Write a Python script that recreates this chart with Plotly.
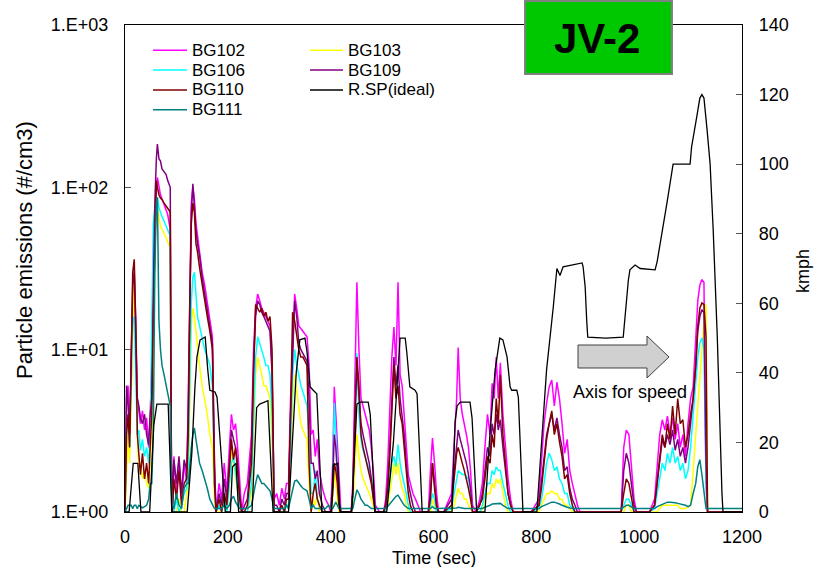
import plotly.graph_objects as go

# ---------------- data ----------------
time_s = [
    0, 3, 6, 9, 12, 15, 18, 21, 24,
    27, 30, 34, 38, 42, 46, 49,
    52, 55, 58, 61, 63, 66, 69, 72, 76, 80, 83, 86, 88, 90, 92,
    95, 100, 105, 110, 115, 120,
    123, 126, 129, 132, 135, 138, 141, 145, 150, 155, 160, 165, 170, 174, 177,
    183, 188, 193, 198,
    203, 207, 211, 215, 219, 223, 227,
    232, 238,
    246, 250, 254, 258, 262, 266, 270, 274, 278, 282, 286, 290,
    295, 300, 305, 310, 314,
    318, 322, 326, 330, 334, 338, 342, 346, 350, 354, 358, 362,
    366, 370, 374, 378, 384, 390, 396, 400,
    404, 407, 410, 413, 416, 420,
    430, 440,
    443, 447, 451, 455, 459, 463, 467, 471, 475, 479, 483, 487,
    495, 503,
    507, 511, 515, 519, 523, 527, 531, 535, 539, 543, 547, 551, 555, 560, 565, 570, 575,
    582,
    590, 594, 598, 602, 606, 610,
    620,
    635, 640, 645, 648, 652, 656, 660, 664, 668, 672, 676,
    683,
    690, 695, 700, 705, 710, 714, 718, 722, 726, 730, 735, 740, 745, 750, 755,
    770, 790,
    805, 810, 815, 820, 825, 830, 835, 840, 845, 850, 855, 860, 865, 870, 875, 880, 885,
    900, 930, 950,
    965, 970, 975, 980, 985, 990, 995,
    1010, 1020,
    1030, 1035, 1040, 1045, 1050, 1055, 1060, 1065, 1070, 1075, 1080, 1085, 1090, 1095, 1100, 1105, 1110,
    1114, 1118, 1122, 1126, 1130, 1133, 1136,
    1150, 1170, 1200,
]

bg102 = [
    1, 5, 6, 3, 8, 20, 28, 15, 5,
    4, 3.5, 4.2, 3.2, 3.8, 2.5, 4,
    8, 30, 60, 100, 115, 100, 90, 85, 78, 72, 68, 60, 55, 2, 1,
    2.2, 1.3, 2.1, 1.2, 2.0, 1.5,
    5, 30, 80, 100, 84, 60, 50, 40, 30, 25, 20, 15, 12, 2, 1,
    1.5, 1.2, 2.0, 1.3,
    2.5, 4.0, 3.2, 3.5, 2.5, 1.5, 1,
    1.3, 1.5,
    3, 10, 18, 22, 20, 18, 17, 16, 15, 14, 8, 1.2,
    1.3, 1.1, 1.4, 1.2, 1.5,
    1.5, 5, 12, 22, 18, 14, 13.5, 13, 12.5, 12, 8, 3,
    3.2, 2.2, 2.8, 1.8, 1.4, 1.2, 1.1, 1.0,
    2, 5.9, 4, 2.5, 1.5, 1,
    1, 1,
    1.5, 8, 26, 10, 5, 4.5, 4, 3.5, 3.2, 2.5, 1.8, 1.1,
    1, 1,
    1.2, 2, 4, 9, 13.8, 8, 26, 7, 6, 4, 2.5, 1.7, 1.5, 1.3, 1.2, 1.1, 1,
    1,
    1, 1.8, 2.85, 2.0, 1.3, 1,
    1,
    1.3, 2.5, 5, 10.3, 5, 4, 3.5, 3, 2.5, 1.8, 1.1,
    1,
    1.2, 1.5, 2.5, 4, 3, 6.2, 5, 9, 5, 8.3, 4, 2.5, 1.6, 1.2, 1,
    1, 1,
    1.2, 2, 3.5, 4.7, 5.9, 6.5, 4.5, 6.3, 5, 3.5, 2.3, 2.8, 1.8, 1.5, 1.3, 1.1, 1,
    1, 1, 1,
    1, 2.5, 3.2, 3.0, 2.0, 1.2, 1,
    1, 1,
    1.2, 2, 3, 3.7, 3.2, 3.9, 3, 3.8, 2.8, 3.5, 2.5, 3, 2.2, 3.5, 5, 5.9, 11,
    20, 25, 27, 26, 1.5, 1, 1,
    1, 1, 1,
]

bg103 = [
    1, 2, 3, 2, 5, 18, 30, 12, 3,
    1.8, 2, 1.6, 1.8, 1.5, 1.4, 2,
    2, 5, 40, 70, 75, 65, 58, 55, 52, 49, 46, 44, 42, 2, 1,
    1, 1, 1.2, 1, 1, 1.3,
    1.5, 5, 14, 18, 16, 13, 10, 8, 6, 5, 4, 3, 2.5, 1.2, 1,
    1, 1, 1.3, 1,
    1.5, 2.5, 2.0, 1.6, 1.3, 1.1, 1,
    1, 1,
    1.3, 3, 7, 9, 8, 7, 6, 6, 5.5, 5, 3, 1,
    1, 1, 1, 1, 1.1,
    1.1, 2, 5, 7, 5.5, 4.4, 3.5, 3.2, 3, 2.8, 1.5, 1,
    1.2, 1.1, 1.3, 1, 1, 1, 1, 1,
    1.2, 1.8, 1.5, 1.2, 1, 1,
    1, 1,
    1.1, 1.8, 3, 2.2, 1.8, 1.6, 1.5, 1.4, 1.3, 1.2, 1.1, 1,
    1, 1,
    1, 1.1, 1.3, 1.6, 2, 1.7, 2.0, 1.6, 1.4, 1.3, 1.1, 1, 1, 1, 1, 1, 1,
    1,
    1, 1, 1.2, 1.1, 1, 1,
    1,
    1, 1.1, 1.3, 1.4, 1.3, 1.3, 1.2, 1.2, 1.1, 1.05, 1,
    1,
    1, 1.05, 1.2, 1.3, 1.3, 1.5, 1.4, 1.6, 1.5, 1.6, 1.3, 1.1, 1, 1, 1,
    1, 1,
    1, 1.1, 1.2, 1.3, 1.3, 1.35, 1.3, 1.3, 1.2, 1.2, 1.1, 1.1, 1.05, 1, 1, 1, 1,
    1, 1, 1,
    1, 1, 1.1, 1.1, 1, 1, 1,
    1, 1,
    1, 1, 1.05, 1.1, 1.1, 1.1, 1.1, 1.1, 1.1, 1.1, 1.05, 1.05, 1.05, 1.07, 1.1, 1.8, 3,
    4.2, 7, 9.5, 15, 19, 1, 1,
    1, 1, 1,
]

bg106 = [
    1, 3, 4, 2.5, 6, 15, 16, 8, 3,
    3.2, 2.4, 2.8, 2.2, 2.5, 2.0, 3,
    15, 60, 75, 85, 87, 75, 70, 66, 62, 58, 55, 52, 50, 2, 1,
    1, 1.2, 1, 1.1, 1.3, 1.4,
    2, 8, 20, 28, 30, 22, 16, 14, 12, 10, 9, 8, 6, 1.5, 1,
    1.1, 1, 1.2, 1,
    1.5, 2.0, 2.2, 1.8, 1.4, 1.1, 1,
    1, 1,
    1.5, 4, 9, 12, 11, 10, 9, 8, 8, 7, 4, 1,
    1, 1, 1, 1, 1.1,
    1.1, 2.5, 7, 10, 8, 7, 6, 5.5, 5, 4.5, 3, 1.3,
    1.3, 1.8, 1.2, 1.1, 1, 1, 1, 1,
    1.5, 4.7, 3, 1.8, 1.2, 1,
    1, 1,
    1.2, 3, 9.5, 4, 2.8, 2.4, 2.2, 2.0, 1.8, 1.6, 1.3, 1,
    1, 1,
    1, 1.2, 1.5, 2, 2.2, 1.9, 2.6, 2.0, 1.7, 1.5, 1.3, 1.1, 1, 1, 1, 1, 1,
    1,
    1, 1.1, 1.3, 1.2, 1, 1,
    1,
    1.05, 1.3, 1.6, 1.8, 1.75, 1.7, 1.7, 1.65, 1.6, 1.3, 1,
    1,
    1, 1.1, 1.3, 1.5, 1.5, 1.8, 1.7, 1.9, 1.8, 1.8, 1.5, 1.3, 1.1, 1, 1,
    1, 1,
    1.05, 1.2, 1.5, 2.0, 2.3, 2.1, 1.8, 1.9, 1.6, 1.5, 1.3, 1.3, 1.1, 1.05, 1, 1, 1,
    1, 1, 1,
    1, 1.1, 1.2, 1.2, 1.1, 1, 1,
    1, 1,
    1.05, 1.3, 1.6, 2.0, 1.8, 2.3, 2.0, 2.5, 2.0, 2.2, 1.8, 2.0, 1.6, 1.8, 2.5, 4, 6,
    9, 11, 11.8, 10, 1.5, 1, 1,
    1, 1, 1,
]

bg109 = [
    1, 6, 4.5, 3, 9, 25, 30, 12, 5,
    4.5, 3.8, 3.5, 4.0, 3.0, 2.6, 4,
    5, 20, 80, 150, 185, 150, 145, 130, 125, 120, 110, 105, 100, 3, 1,
    2.1, 1.5, 2.2, 1.3, 2.1, 1.8,
    4, 25, 70, 105, 75, 55, 45, 38, 28, 22, 18, 14, 11, 2, 1,
    1.3, 1.1, 1.6, 1.2,
    2.0, 3.2, 2.8, 2.5, 2.0, 1.3, 1,
    1.1, 1.2,
    2.5, 8, 16, 20, 19, 17, 16, 15, 14, 13, 7, 1.1,
    1.1, 1, 1.2, 1.1, 1.3,
    1.3, 4, 10, 20, 16, 11, 10, 9.5, 9, 8.5, 5, 2,
    2.0, 1.6, 1.8, 1.3, 1.1, 1, 1, 1,
    1.5, 3, 2.5, 1.8, 1.2, 1,
    1, 1,
    1.3, 4, 8, 5, 3.5, 3, 2.6, 2.2, 2.0, 1.6, 1.3, 1,
    1, 1,
    1.1, 1.5, 2.5, 5, 9, 6, 8, 5, 4, 3, 2, 1.5, 1.3, 1.1, 1, 1, 1,
    1,
    1, 1.3, 2.0, 1.5, 1.1, 1,
    1,
    1.2, 1.8, 2.8, 3.2, 2.8, 2.5, 2.3, 2.0, 1.7, 1.4, 1,
    1,
    1.1, 1.3, 1.8, 2.5, 2.2, 3.5, 3.0, 4, 3.2, 3.7, 2.5, 1.8, 1.3, 1.1, 1,
    1, 1,
    1.1, 1.5, 2.2, 3, 3.5, 4, 3.2, 3.8, 3, 2.5, 1.8, 1.9, 1.4, 1.2, 1.1, 1, 1,
    1, 1, 1,
    1, 1.8, 2.3, 2.0, 1.5, 1.1, 1,
    1, 1,
    1.1, 1.5, 2, 2.8, 2.5, 3, 2.6, 3.2, 2.4, 2.8, 2.2, 2.5, 2.0, 2.5, 3.5, 5, 8,
    13, 16, 17.6, 17, 2, 1, 1,
    1, 1, 1,
]

bg110 = [
    1, 3, 4, 2.5, 8, 30, 36, 14, 3,
    2.2, 1.7, 2.3, 1.6, 2.0, 1.5, 2.5,
    4, 15, 50, 110, 100, 90, 86, 84, 80, 77, 75, 72, 70, 2, 1,
    1.6, 1.2, 1.8, 1.1, 1.5, 1.6,
    3, 20, 60, 80, 70, 45, 40, 32, 25, 20, 16, 13, 10, 1.5, 1,
    1.2, 1.0, 1.3, 1.1,
    1.8, 2.8, 2.1, 2.5, 1.8, 1.2, 1,
    1, 1.1,
    2, 7, 19, 18, 17, 18, 16, 17, 15, 16, 10, 1,
    1, 1, 1.1, 1, 1.2,
    1.2, 4, 17, 15, 12, 10, 9, 9, 8.5, 8, 2, 1,
    1.3, 1.5, 1.2, 1.1, 1, 1, 1, 1,
    1.3, 2.0, 1.8, 1.5, 1.1, 1,
    1, 1,
    1.3, 3, 9, 6, 3, 2.5, 2.2, 1.9, 1.7, 1.5, 1.2, 1,
    1, 1,
    1.1, 1.4, 2.2, 4.5, 8, 5, 6, 4, 3.5, 2.5, 1.8, 1.3, 1.1, 1, 1, 1, 1,
    1,
    1, 1.2, 2.0, 1.4, 1.1, 1,
    1,
    1.1, 1.6, 2.3, 2.5, 2.2, 2.0, 1.8, 1.6, 1.4, 1.2, 1,
    1,
    1.1, 1.2, 1.6, 2.2, 2.0, 3, 2.5, 5, 3.5, 7, 3, 2, 1.3, 1.1, 1,
    1, 1,
    1.1, 1.4, 2, 2.8, 3.5, 4.2, 3, 3.5, 2.7, 2.2, 1.6, 1.7, 1.3, 1.1, 1, 1, 1,
    1, 1, 1,
    1, 1.3, 1.6, 1.5, 1.2, 1, 1,
    1, 1,
    1.1, 1.5, 2.2, 3, 2.5, 3.5, 2.8, 4.5, 3, 5, 3.5, 3.7, 2.5, 3, 4, 5, 8,
    14, 18, 19.4, 19, 12, 1, 1,
    1, 1, 1,
]

bg111 = [
    1, 1.05, 1.1, 1.1, 1.1, 1.05, 1.1, 1.1, 1.05,
    1.1, 1.08, 1.06, 1.08, 1.1, 1.2, 1.5,
    1.5, 3, 30, 80, 87, 15, 10, 8, 7, 6, 5.5, 5, 4.5, 1.5, 1.1,
    1.05, 1.3, 1.1, 1.05, 1.4, 1.5,
    1.5, 2.0, 2.5, 3.0, 3.3, 2.8, 2.4, 2.0, 1.8, 1.6, 1.4, 1.2, 1.1, 1.05, 1.05,
    1.05, 1.05, 1.1, 1.05,
    1.1, 1.2, 1.25, 1.15, 1.1, 1.05, 1.05,
    1.05, 1.05,
    1.1, 1.3, 1.5, 1.7, 1.6, 1.5, 1.5, 1.45, 1.4, 1.35, 1.2, 1.05,
    1.05, 1.05, 1.05, 1.05, 1.1,
    1.05, 1.2, 1.4, 1.55, 1.57, 1.5, 1.45, 1.4, 1.38, 1.35, 1.2, 1.05,
    1.1, 1.05, 1.05, 1.05, 1.05, 1.05, 1.1, 1.05,
    1.05, 1.1, 1.15, 1.1, 1.05, 1.05,
    1.05, 1.05,
    1.05, 1.2, 1.37, 1.3, 1.2, 1.15, 1.1, 1.1, 1.08, 1.05, 1.05, 1.05,
    1.05, 1.05,
    1.05, 1.08, 1.12, 1.18, 1.22, 1.25, 1.27, 1.2, 1.15, 1.1, 1.08, 1.05, 1.05, 1.05, 1.05, 1.05, 1.05,
    1.05,
    1.05, 1.05, 1.08, 1.05, 1.05, 1.05,
    1.05,
    1.05, 1.05, 1.06, 1.07, 1.06, 1.05, 1.05, 1.05, 1.05, 1.05, 1.05,
    1.05,
    1.05, 1.05, 1.07, 1.08, 1.1, 1.12, 1.12, 1.12, 1.13, 1.13, 1.1, 1.07, 1.05, 1.05, 1.05,
    1.05, 1.05,
    1.05, 1.08, 1.1, 1.12, 1.13, 1.15, 1.15, 1.14, 1.12, 1.1, 1.08, 1.07, 1.06, 1.05, 1.05, 1.05, 1.05,
    1.05, 1.05, 1.05,
    1.05, 1.07, 1.1, 1.1, 1.07, 1.05, 1.05,
    1.05, 1.05,
    1.05, 1.08, 1.1, 1.12, 1.13, 1.15, 1.15, 1.15, 1.14, 1.13, 1.12, 1.12, 1.1, 1.08, 1.1, 1.3, 1.5,
    1.9, 2.1, 1.7, 1.3, 1.05, 1.05, 1.05,
    1.05, 1.05, 1.05,
]

speed_t = [
    0, 8, 16, 25, 31, 48, 56, 62, 84, 91,
    121, 130, 136, 140, 146, 156, 161, 165, 175, 179, 195,
    205, 209, 216, 221,
    247, 256, 262, 278, 288,
    318, 326, 333, 340, 350, 354, 360, 366, 373, 383,
    402, 405, 414, 418,
    441, 451, 457, 473, 477, 486,
    509, 522, 529, 535, 545, 548, 554, 564, 568, 578,
    636, 642, 646, 652, 671, 675, 684,
    700, 710, 720, 729, 735, 743, 749, 752, 762, 765, 774,
    801, 807, 813, 820, 827, 833, 840, 846, 852, 870, 889, 891, 895, 898, 900, 935, 969,
    979, 982, 992, 1002, 1031, 1035, 1054, 1066, 1099, 1102, 1112, 1118, 1122, 1126,
    1132, 1138, 1144, 1152, 1161, 1163, 1200,
]
speed_kmph = [
    0, 0, 14, 14, 0, 0, 25, 31, 31, 0,
    0, 17, 36, 44.6, 49.5, 50.3, 40.8, 35, 34.5, 33, 0,
    0, 13, 14, 0,
    0, 30, 31, 32, 0,
    0, 20, 40, 49.5, 50, 46, 36, 35, 34, 0,
    0, 13.5, 14, 0,
    0, 31, 31.6, 31.6, 28, 0,
    0, 20, 36, 50, 50, 46, 36, 35, 34, 0,
    0, 26, 30.5, 31.6, 31.6, 27, 0,
    0, 23, 41, 50, 49.5, 44.6, 36, 35, 35, 33, 0,
    0, 12, 26, 41, 50, 59, 70, 68, 70.5, 71, 71.6, 70.5, 64.7, 55, 50.3, 50, 50.3,
    66.7, 69.6, 71, 70, 69.6, 72, 88.8, 100, 100, 105, 113.6, 119, 120, 119,
    110, 100, 81, 50, 5.5, 0, 0,
]

series_names = ["BG102", "BG103", "BG106", "BG109", "BG110", "BG111"]
series_values = [bg102, bg103, bg106, bg109, bg110, bg111]
series_colors = ["#FF00FF", "#FFFF00", "#00FFFF", "#800080", "#800000", "#008080"]
speed_name = "R.SP(ideal)"

x_tick_vals = [0, 200, 400, 600, 800, 1000, 1200]
y_tick_vals = [1, 10, 100, 1000]
y_tick_text = ["1.E+00", "1.E+01", "1.E+02", "1.E+03"]
speed_tick_vals = [0, 20, 40, 60, 80, 100, 120, 140]

for vals in series_values:
    assert len(vals) == len(time_s), (len(vals), len(time_s))
assert len(speed_t) == len(speed_kmph), (len(speed_t), len(speed_kmph))

FONT = "Arial, 'Liberation Sans', sans-serif"

fig = go.Figure()
for name, color, vals in zip(series_names, series_colors, series_values):
    fig.add_trace(go.Scatter(x=time_s, y=vals, mode="lines", name=name,
                             line=dict(color=color, width=1.5), showlegend=False))
fig.add_trace(go.Scatter(x=speed_t, y=speed_kmph, mode="lines", name=speed_name,
                         yaxis="y2", line=dict(color="black", width=1.3),
                         showlegend=False))

# ---- manual two-column legend (Excel style) ----
legend_cols = [["BG102", "BG106", "BG110", "BG111"], ["BG103", "BG109", speed_name]]
col_line_x0 = [0.0454, 0.2998]
col_line_x1 = [0.1005, 0.3533]
col_text_x = [0.1070, 0.3598]
row_y = [0.9480, 0.9074, 0.8667, 0.8261]
color_of = dict(zip(series_names, series_colors))
color_of[speed_name] = "black"

shapes = []
annotations = []
for ci, col in enumerate(legend_cols):
    for ri, name in enumerate(col):
        shapes.append(dict(type="line", xref="paper", yref="paper",
                           x0=col_line_x0[ci], x1=col_line_x1[ci],
                           y0=row_y[ri], y1=row_y[ri],
                           line=dict(color=color_of[name], width=1.5)))
        annotations.append(dict(text=name, xref="paper", yref="paper",
                                x=col_text_x[ci], y=row_y[ri], xanchor="left",
                                yanchor="middle", showarrow=False, borderpad=0,
                                font=dict(size=17, color="black", family=FONT)))

# JV-2 label box
shapes.append(dict(type="rect", xref="paper", yref="paper",
                   x0=0.6483, x1=0.8865, y0=0.8994, y1=1.0493,
                   fillcolor="#00C800", line=dict(color="#808080", width=2)))
annotations.append(dict(text="<b>JV-2</b>", xref="paper", yref="paper",
                        x=0.7658, y=0.9713, showarrow=False,
                        xanchor="center", yanchor="middle",
                        font=dict(size=42, color="black", family=FONT)))

# Block arrow pointing at speed axis
shapes.append(dict(type="path", xref="paper", yref="paper",
                   path="M 0.7342 0.3429 L 0.8460 0.3429 L 0.8460 0.3614 L 0.8817 0.3183 "
                        "L 0.8460 0.2752 L 0.8460 0.2957 L 0.7342 0.2957 Z",
                   fillcolor="#D0D0D0", line=dict(color="#404040", width=1)))
annotations.append(dict(text="Axis for speed", xref="paper", yref="paper",
                        x=0.8185, y=0.2464, showarrow=False,
                        xanchor="center", yanchor="middle",
                        font=dict(size=18, color="black", family=FONT)))

# Axis titles
annotations.append(dict(text="Particle emissions (#/cm3)", xref="paper", yref="paper",
                        x=-0.162, y=0.538, textangle=-90, showarrow=False,
                        xanchor="center", yanchor="middle",
                        font=dict(size=22, color="black", family=FONT)))
annotations.append(dict(text="kmph", xref="paper", yref="paper",
                        x=1.099, y=0.495, textangle=-90, showarrow=False,
                        xanchor="center", yanchor="middle",
                        font=dict(size=18, color="black", family=FONT)))
annotations.append(dict(text="Time (sec)", xref="paper", yref="paper",
                        x=0.5, y=-0.0945, showarrow=False,
                        xanchor="center", yanchor="middle",
                        height=18, borderpad=0,
                        font=dict(size=18, color="black", family=FONT)))

fig.update_layout(
    width=824, height=576,
    margin=dict(l=125, r=82, t=25, b=64),
    paper_bgcolor="white", plot_bgcolor="white",
    font=dict(family=FONT, size=18, color="black"),
    showlegend=False,
    xaxis=dict(range=[0, 1200], tickvals=x_tick_vals, showgrid=False, zeroline=False,
               showline=True, linecolor="black", linewidth=1.3, mirror=True,
               ticks="", ticklabelstandoff=8),
    yaxis=dict(type="log", range=[0, 3], tickvals=y_tick_vals, ticktext=y_tick_text,
               showgrid=False, zeroline=False, showline=True, linecolor="black",
               linewidth=1.3, ticks="inside", ticklen=6, tickcolor="#555555",
               ticklabelstandoff=12),
    yaxis2=dict(range=[0, 140], tickvals=speed_tick_vals, overlaying="y", side="right",
                showgrid=False, zeroline=False, showline=True, linecolor="black",
                linewidth=1.3, ticks="inside", ticklen=6, tickcolor="#555555",
                ticklabelstandoff=12),
    shapes=shapes,
    annotations=annotations,
)

fig.write_html("out.html")
